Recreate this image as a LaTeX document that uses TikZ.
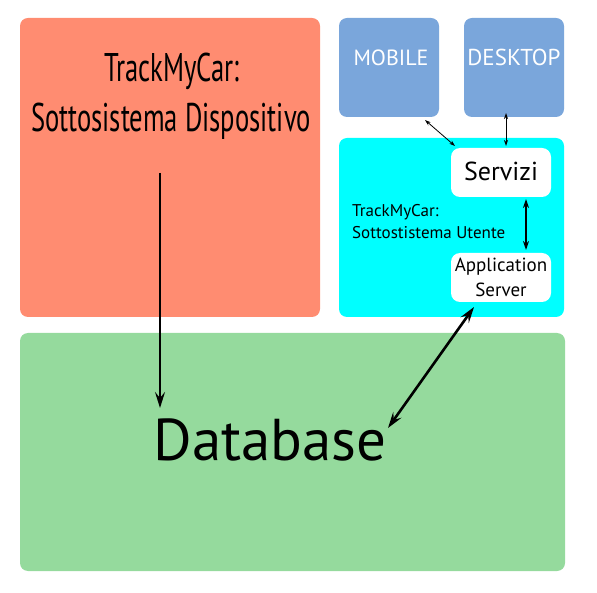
\documentclass[tikz,border=0pt]{standalone}
\usepackage{fontspec}
\setmainfont{PT Sans}
\newfontfamily\condfont[FakeStretch=0.665]{PT Sans}
\usetikzlibrary{arrows.meta}
\definecolor{salmon}{HTML}{FF8C71}
\definecolor{dbgreen}{HTML}{95DA9D}
\definecolor{cyanbox}{HTML}{00FFFF}
\definecolor{clientblue}{HTML}{7AA6DB}
\tikzset{
  area/.style={rounded corners=8pt, inner sep=0pt, outer sep=0pt},
  whitebox/.style={area, fill=white, minimum width=100pt, minimum height=49pt, rounded corners=9pt},
  client/.style={area, fill=clientblue, minimum width=100pt, minimum height=99pt},
  clientlabel/.style={text=white, font=\fontsize{22}{24}\selectfont, anchor=base, inner sep=0pt},
  bigtip/.tip={Stealth[length=16pt,width=10pt,inset=6pt]},
  smalltip/.tip={Stealth[length=6pt,width=4pt,inset=2pt]},
  midtip/.tip={Stealth[length=9pt,width=6pt,inset=3pt]}
}
\begin{document}
\begin{tikzpicture}[x=1pt,y=-1pt]
\useasboundingbox (0,0) rectangle (597,593);
% areas
\node[area, fill=salmon, minimum width=300pt, minimum height=299pt, anchor=north west] (disp) at (20,18) {};
\node[area, fill=dbgreen, minimum width=545pt, minimum height=238pt, anchor=north west] (dbarea) at (20,333) {};
\node[area, fill=cyanbox, minimum width=225pt, minimum height=179pt, anchor=north west] (utente) at (339,138) {};
\node[client, anchor=north west] (mobile) at (339,18) {};
\node[client, anchor=north west] (desktop) at (464,18) {};
\node[whitebox, anchor=north west] (servizi) at (451,148) {};
\node[whitebox, anchor=north west] (appserv) at (451,253) {};
% texts
\node[font=\condfont\fontsize{40}{42}\selectfont, anchor=base, inner sep=0pt] (disptitleA) at (172,82) {TrackMyCar:};
\node[font=\condfont\fontsize{40}{42}\selectfont, anchor=base, inner sep=0pt] (disptitleB) at (171,132) {Sottosistema Dispositivo};
\node[clientlabel] (mobiletext) at (391,66) {MOBILE};
\node[clientlabel, font=\fontsize{23}{24}\selectfont] (desktoptext) at (514,66) {DESKTOP};
\node[font=\fontsize{26}{28}\selectfont, anchor=base, inner sep=0pt] (servtext) at (501,181) {Servizi};
\node[font=\fontsize{19}{20}\selectfont, anchor=base, inner sep=0pt] (apptextA) at (501,272) {Application};
\node[font=\fontsize{19}{20}\selectfont, anchor=base, inner sep=0pt] (apptextB) at (501,297) {Server};
\node[font=\fontsize{17}{20}\selectfont, anchor=base west, inner sep=0pt] (utA) at (352,217) {TrackMyCar:};
\node[font=\fontsize{17}{20}\selectfont, anchor=base west, inner sep=0pt] (utB) at (352,239) {Sottostistema Utente};
\node[font=\fontsize{59}{60}\selectfont, anchor=base, inner sep=0pt] (db) at (270,460) {Database};
% connectors
\coordinate (dstart) at (160,173);
\coordinate (dend) at (160,408);
\coordinate (dbtip) at (388,428);
\coordinate (apptip) at (474,307);
\coordinate (servbot) at (526,199);
\coordinate (apptop) at (526,250);
\coordinate (mobbot) at (425,120);
\coordinate (servmob) at (455,146);
\coordinate (deskbot) at (506,113);
\coordinate (servdesk) at (506,146);
\draw[line width=2.2pt, -{bigtip}] (dstart) -- (dend);
\draw[line width=2.6pt, {bigtip}-{bigtip}] (dbtip) -- (apptip);
\draw[line width=1.6pt, {midtip}-{midtip}] (servbot) -- (apptop);
\draw[line width=0.8pt, {smalltip}-{smalltip}] (mobbot) -- (servmob);
\draw[line width=0.8pt, {smalltip}-{smalltip}] (deskbot) -- (servdesk);
\end{tikzpicture}
\end{document}
